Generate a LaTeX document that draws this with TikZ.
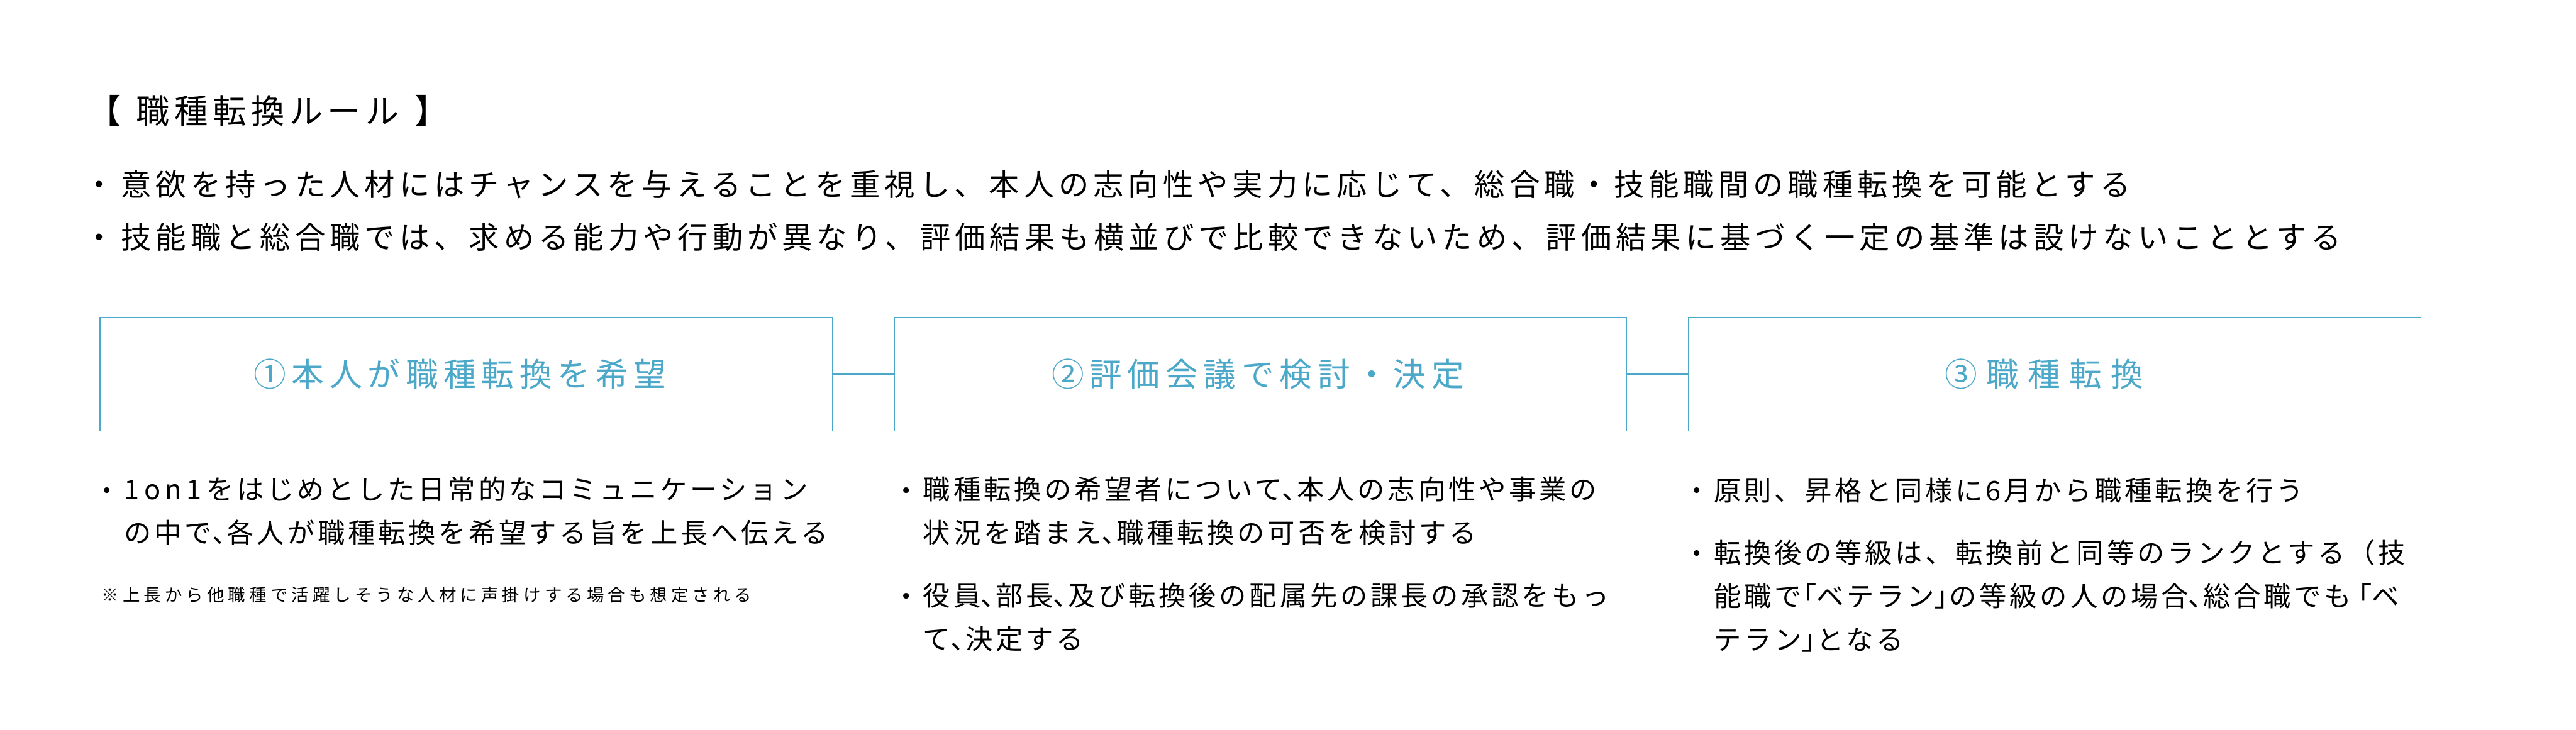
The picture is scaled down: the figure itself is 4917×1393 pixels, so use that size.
\documentclass[tikz,border=0pt]{standalone}
\usepackage{fontspec}
\usepackage{xcolor}
\usetikzlibrary{positioning}

\setmainfont{Noto Sans CJK JP}
\newfontfamily\titlejp[LetterSpace=14]{Noto Sans CJK JP}
\newfontfamily\rulejp[LetterSpace=14.5]{Noto Sans CJK JP}
\newfontfamily\stepjp[LetterSpace=17]{Noto Sans CJK JP}
\newfontfamily\stepwidejp[LetterSpace=28]{Noto Sans CJK JP}
\newfontfamily\itemjp[LetterSpace=11]{Noto Sans CJK JP}
\newfontfamily\notejp[LetterSpace=22]{Noto Sans CJK JP}

\definecolor{stepblue}{HTML}{4BA8C8}

% same height and depth for every line of Japanese text
\newcommand{\jstrut}{\rule[-0.12em]{0pt}{1em}}
% half-width punctuation
\newcommand{\halfL}[1]{\makebox[0.55em][l]{#1}}
\newcommand{\halfR}[1]{\makebox[0.55em][r]{#1}}

\begin{document}
\begin{tikzpicture}[
    x = 1pt, y = -1pt, % one unit = one pixel of the layout, y down
    node distance = 118pt, % gap between the step boxes
    stepbox/.style = {draw = stepblue, line width = 2pt, fill = white,
        minimum width = 1398pt, minimum height = 217pt,
        inner sep = 0pt, outer sep = 0pt, text = stepblue,
        execute at begin node = \jstrut,
        font = \stepjp\fontsize{62}{62}\selectfont},
    steplink/.style = {draw = stepblue, line width = 2pt},
    ruletext/.style = {anchor = west, inner sep = 0pt,
        execute at begin node = \jstrut,
        font = \rulejp\fontsize{58}{58}\selectfont},
    itemtext/.style = {align = left, inner sep = 0pt,
        execute at begin node = \jstrut, execute at end node = \jstrut,
        font = \itemjp\fontsize{52}{83}\selectfont},
    notetext/.style = {inner sep = 0pt, execute at begin node = \jstrut,
        font = \notejp\fontsize{33}{33}\selectfont}
]
\useasboundingbox (0,0) rectangle (4917,1393);

% title and general rules
\node[anchor = west, inner sep = 0pt, execute at begin node = \jstrut,
    font = \titlejp\fontsize{64}{64}\selectfont] (title) at (167,211)
    {【\ \kern6pt職種転換ルール\ \kern6pt】};

\node[ruletext] (r1) at (231,352)
    {意欲を持った人材にはチャンスを与えることを重視し、本人の志向性や実力に応じて、総合職・技能職間の職種転換を可能とする};
\node[ruletext] (r2) at (231,453)
    {技能職と総合職では、求める能力や行動が異なり、評価結果も横並びで比較できないため、評価結果に基づく一定の基準は設けないこととする};
\node[ruletext, left = 12pt of r1] (r1dot) {・};
\node[ruletext, left = 12pt of r2] (r2dot) {・};

% the three steps
\node[stepbox] (b1) at (890,714.5) {①本人が職種転換を希望\kern24pt};
\node[stepbox, right = of b1] (b2) {②評価会議で検討・決定\kern10pt};
\node[stepbox, right = of b2, font = \stepwidejp\fontsize{62}{62}\selectfont] (b3) {③職種転換\kern40pt};

\draw[steplink] (b1) -- (b2);
\draw[steplink] (b2) -- (b3);

% details under step 1
\node[itemtext, below = 87pt of b1.south west, anchor = north west, xshift = 46pt] (c1a)
    {1\kern9pt o\kern9pt n\kern9pt 1\kern9pt をはじめとした日常的なコミュニケーション\\の中で\halfL{、}各人が職種転換を希望する旨を上長へ伝える};
\node[itemtext, left = 6pt of c1a.north west, anchor = north east] (c1adot) {・};
\node[notetext, below = 76pt of c1a.south west, anchor = north west, xshift = -43pt] (c1n)
    {※上長から他職種で活躍しそうな人材に声掛けする場合も想定される};

% details under step 2
\node[itemtext, below = 87pt of b2.south west, anchor = north west, xshift = 55pt] (c2a)
    {職種転換の希望者について\halfL{、}本人の志向性や事業の\\状況を踏まえ\halfL{、}職種転換の可否を検討する};
\node[itemtext, below = 69pt of c2a.south west, anchor = north west] (c2b)
    {役員\halfL{、}部長\halfL{、}及び転換後の配属先の課長の承認をもっ\\て\halfL{、}決定する};
\node[itemtext, left = 6pt of c2a.north west, anchor = north east] (c2adot) {・};
\node[itemtext, left = 6pt of c2b.north west, anchor = north east] (c2bdot) {・};

% details under step 3
\node[itemtext, below = 87pt of b3.south west, anchor = north west, xshift = 48pt] (c3a)
    {原則、昇格と同様に6月から職種転換を行う};
\node[itemtext, below = 68pt of c3a.south west, anchor = north west] (c3b)
    {転換後の等級は、転換前と同等のランクとする（技\\能職で\halfR{「}ベテラン\halfL{」}の等級の人の場合\halfL{、}総合職でも\makebox[0.75em][r]{「}ベ\\テラン\halfL{」}となる};
\node[itemtext, left = 6pt of c3a.north west, anchor = north east] (c3adot) {・};
\node[itemtext, left = 6pt of c3b.north west, anchor = north east] (c3bdot) {・};
\end{tikzpicture}
\end{document}
